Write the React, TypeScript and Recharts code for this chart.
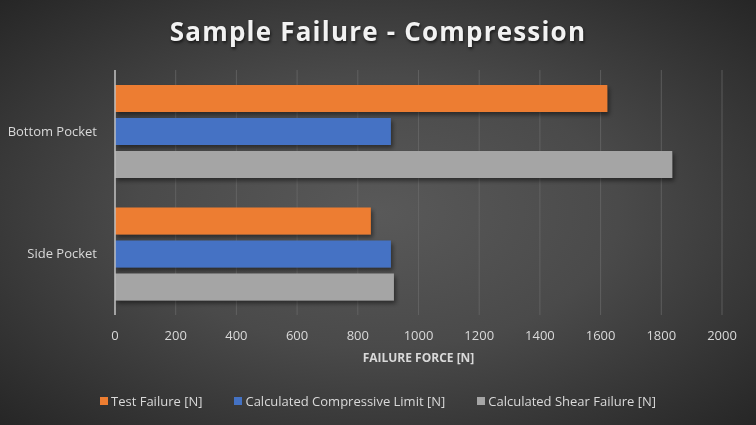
import { BarChart, Bar, XAxis, YAxis, CartesianGrid } from 'recharts';

const categories = ['Bottom Pocket', 'Side Pocket'];
const testFailure = [1622, 843];
const compressiveLimit = [909, 909];
const shearFailure = [1836, 919];
const xTicks = [0, 200, 400, 600, 800, 1000, 1200, 1400, 1600, 1800, 2000];

const series = [
  { key: 'test', name: 'Test Failure [N]', color: '#ED7D31' },
  { key: 'comp', name: 'Calculated Compressive Limit [N]', color: '#4472C4' },
  { key: 'shear', name: 'Calculated Shear Failure [N]', color: '#A5A5A5' },
];

const data = categories.map((name, i) => ({
  name,
  test: testFailure[i],
  comp: compressiveLimit[i],
  shear: shearFailure[i],
}));

const FONT = '"Open Sans", Calibri, sans-serif';
const TEXT = '#D9D9D9';

export default function App() {
  return (
    <div
      style={{
        position: 'fixed',
        left: 0,
        top: 0,
        width: 756,
        height: 425,
        overflow: 'hidden',
        fontFamily: FONT,
        background: 'radial-gradient(ellipse at 50% 50%, #595959 0%, #4a4a4a 45%, #262626 100%)',
      }}
    >
      <div
        style={{
          position: 'absolute',
          top: 13,
          left: 0,
          width: 756,
          textAlign: 'center',
          color: '#F2F2F2',
          fontSize: 26,
          fontWeight: 700,
          letterSpacing: 1.2,
          textShadow: '1px 2px 3px rgba(0,0,0,0.6)',
        }}
      >
        Sample Failure - Compression
      </div>

      <BarChart
        width={756}
        height={425}
        data={data}
        layout="vertical"
        margin={{ top: 70, right: 34, left: 0, bottom: 55 }}
        barCategoryGap={15}
        barGap={6}
        style={{ position: 'absolute', left: 0, top: 0 }}
      >
        <defs>
          <filter id="barShadow" x="-5%" y="-20%" width="115%" height="160%">
            <feDropShadow dx="2" dy="3" stdDeviation="2" floodColor="#000" floodOpacity="0.45" />
          </filter>
        </defs>
        <CartesianGrid stroke="#6a6a6a" strokeOpacity={0.7} horizontal={false} />
        <XAxis
          type="number"
          domain={[0, 2000]}
          ticks={xTicks}
          axisLine={false}
          tickLine={false}
          height={55}
          tick={{ fontSize: 13, fill: TEXT, fontFamily: FONT }}
          tickMargin={10}
          label={{
            value: 'FAILURE FORCE [N]',
            position: 'insideBottom',
            offset: 8,
            fill: TEXT,
            fontSize: 12,
            fontWeight: 700,
            fontFamily: FONT,
          }}
        />
        <YAxis
          type="category"
          dataKey="name"
          width={115}
          axisLine={{ stroke: '#BFBFBF', strokeWidth: 1.5 }}
          tickLine={false}
          tickMargin={12}
          tick={{ fontSize: 13, fill: TEXT, fontFamily: FONT }}
        />
        {series.map((s) => (
          <Bar
            key={s.key}
            dataKey={s.key}
            name={s.name}
            fill={s.color}
            filter="url(#barShadow)"
            isAnimationActive={false}
          />
        ))}
      </BarChart>

      <div
        style={{
          position: 'absolute',
          top: 392,
          left: 0,
          width: 756,
          display: 'flex',
          justifyContent: 'center',
          gap: 32,
          color: TEXT,
          fontSize: 13,
        }}
      >
        {series.map((s) => (
          <div key={s.key} style={{ display: 'flex', alignItems: 'center' }}>
            <span style={{ width: 8, height: 8, background: s.color, marginRight: 3, display: 'inline-block' }} />
            <span>{s.name}</span>
          </div>
        ))}
      </div>
    </div>
  );
}
